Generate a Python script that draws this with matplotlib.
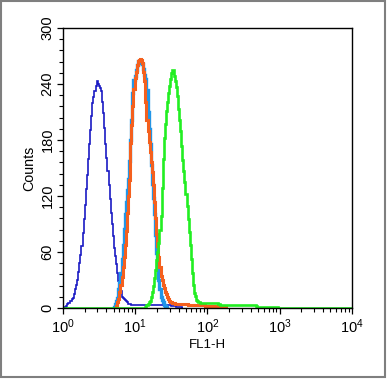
import numpy as np
import matplotlib.pyplot as plt
from matplotlib.patches import Rectangle
from matplotlib.ticker import LogLocator, MultipleLocator, NullFormatter

plt.rcParams['font.family'] = ['Liberation Sans', 'DejaVu Sans']

# histogram channels, 0.015 decade wide, counted from 10^0
bin_width = 0.015
n_bins = 267

# dark blue
blue_start = 0
blue_counts = ([0, 1, 1, 2, 4, 5, 7, 8, 10, 11, 15, 20, 25, 30, 39, 48, 57, 66,
                80, 95, 110, 127, 143, 160, 176, 191, 206, 220, 226, 232, 238, 243,
                240, 238, 236, 232, 221, 209, 193, 176, 161, 147, 132, 117, 102,
                90, 77, 64, 56, 47, 38, 29, 23, 18, 12, 11, 10, 9, 7, 6, 4,
                4, 4] + [3] * 37 + [2, 2, 2, 2] + [1] * 6 + [0])

# light blue
lblue_start = 47
lblue_counts = [1, 4, 7, 11, 20, 28, 38, 53, 68, 85, 101, 114, 126, 138, 157,
                180, 201, 230, 244, 249, 255, 260, 265, 264, 263, 263, 261, 256,
                250, 245, 234, 210, 192, 176, 153, 133, 118, 101, 78, 59, 42, 30,
                20, 12, 9, 6, 3, 2, 1, 0]

# orange
orange_start = 48
orange_counts = ([0, 2, 6, 10, 17, 25, 33, 44, 55, 67, 83, 102, 120, 137, 177,
                  196, 216, 235, 246, 253, 260, 265, 266, 267, 266, 263, 253, 243,
                  221, 201, 190, 178, 167, 156, 146, 132, 114, 96, 79, 66, 55, 44,
                  34, 30, 25, 21, 17, 15, 12, 10, 7, 6, 6, 5, 5, 4]
                 + [4] * 11 + [3] * 16 + [2] * 11 + [1] * 8 + [0])

# green
green_start = 75
green_counts = ([0, 1, 3, 4, 6, 8, 12, 17, 24, 32, 41, 51, 60, 70, 84, 99, 129,
                 160, 182, 197, 211, 221, 230, 238, 245, 252, 255, 249, 243, 237,
                 227, 213, 201, 190, 174, 159, 147, 135, 122, 109, 95, 81, 67, 52,
                 37, 25, 16, 13, 9, 8, 6, 5]
                + [5] * 16 + [4, 4] + [3] * 33 + [2] + [1] * 19 + [0])

y_ticks = [0, 60, 120, 180, 240, 300]


def edges_for(start, counts):
    k = np.arange(start, start + len(counts) + 1)
    return 10 ** (k * bin_width)


fig = plt.figure(figsize=(3.87, 3.79), dpi=100)
ax = fig.add_axes([63 / 387, 71 / 379, 289 / 387, 280 / 379])

ax.stairs(blue_counts, edges_for(blue_start, blue_counts), color='#1a1ac4', lw=1.2)
ax.stairs(lblue_counts, edges_for(lblue_start, lblue_counts), color='#2196e8', lw=2.4)
ax.stairs(orange_counts, edges_for(orange_start, orange_counts), color='#f4601e', lw=2.2)

# green runs along the baseline over the whole range
green_full = np.zeros(n_bins)
green_full[green_start:green_start + len(green_counts)] = green_counts
ax.stairs(green_full, 10 ** (np.arange(n_bins + 1) * bin_width), color='#22ee22', lw=1.9)

ax.set_xscale('log')
ax.set_xlim(1, 1e4)
ax.set_ylim(0, 300)
ax.set_yticks(y_ticks)
ax.yaxis.set_minor_locator(MultipleLocator(12))
ax.xaxis.set_major_locator(LogLocator(base=10, numticks=10))
ax.xaxis.set_minor_locator(LogLocator(base=10, subs=np.arange(2, 10), numticks=10))
ax.xaxis.set_minor_formatter(NullFormatter())

ax.tick_params(which='major', direction='out', length=4, width=0.9, color='black')
ax.tick_params(which='minor', direction='out', length=3, width=0.8, color='black')
ax.tick_params(axis='y', pad=2)
ax.tick_params(axis='x', pad=3)

for lab in ax.get_yticklabels():
    lab.set_rotation(90)
    lab.set_va('center')
    lab.set_family(['Liberation Sans Narrow', 'Liberation Sans'])
    lab.set_fontsize(10.5)
for lab in ax.get_xticklabels():
    lab.set_family(['Liberation Sans Narrow', 'Liberation Sans'])
    lab.set_fontsize(10.5)

for s in ax.spines.values():
    s.set_linewidth(1.0)
    s.set_color('black')

ax.set_xlabel('FL1-H', fontsize=9.5, labelpad=2)
ax.set_ylabel('Counts', fontsize=10.3, labelpad=3)

# grey frame around the whole picture
fig.patches.append(Rectangle((1 / 387, 2 / 379), 384 / 387, 376 / 379,
                             transform=fig.transFigure, fill=False,
                             edgecolor='#7f7f7f', lw=1.5))

fig.savefig('out.png', dpi=100)
